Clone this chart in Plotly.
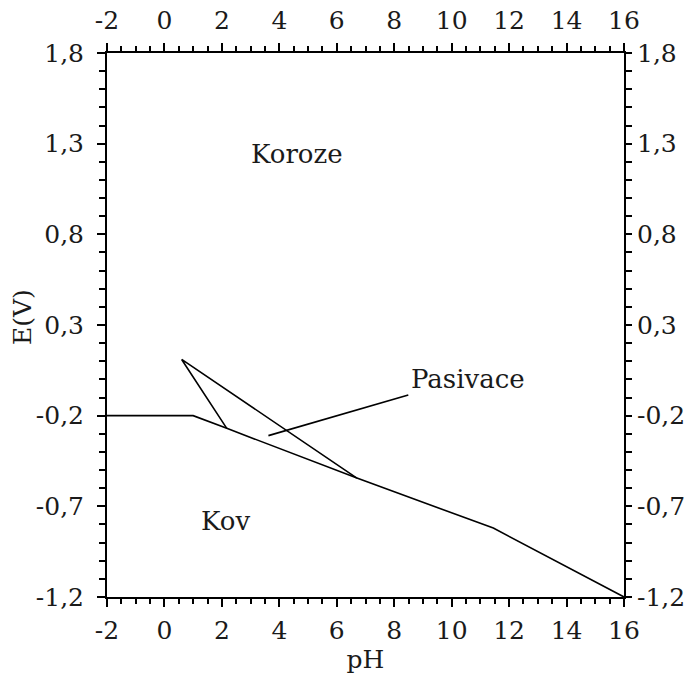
import plotly.graph_objects as go

# Data
boundary_ph = [-2, 1.0, 2.17, 6.7, 11.45, 16]
boundary_e = [-0.2, -0.2, -0.27, -0.544, -0.82, -1.2]

tri_ph = [2.17, 0.6, 6.7]
tri_e = [-0.27, 0.11, -0.544]

leader_ph = [3.62, 8.49]
leader_e = [-0.31, -0.086]

labels = ["Koroze", "Kov", "Pasivace"]
label_ph = [4.6, 2.14, 8.52]
label_e = [1.243, -0.78, 0.0]

x_tickvals = [-2, 0, 2, 4, 6, 8, 10, 12, 14, 16]
x_ticktext = ["-2", "0", "2", "4", "6", "8", "10", "12", "14", "16"]
y_tickvals = [-1.2, -0.7, -0.2, 0.3, 0.8, 1.3, 1.8]
y_ticktext = ["-1,2", "-0,7", "-0,2", "0,3", "0,8", "1,3", "1,8"]

FONT = "DejaVu Serif"
FS = 25
LC = "#1a1a1a"

fig = go.Figure()
line = dict(color="black", width=1.6)
fig.add_trace(go.Scatter(x=boundary_ph, y=boundary_e, mode="lines", line=line, showlegend=False, hoverinfo="skip"))
fig.add_trace(go.Scatter(x=tri_ph, y=tri_e, mode="lines", line=line, showlegend=False, hoverinfo="skip"))
fig.add_trace(go.Scatter(x=leader_ph, y=leader_e, mode="lines", line=line, showlegend=False, hoverinfo="skip"))
fig.add_trace(go.Scatter(x=[-2, 16], y=[-1.2, 1.8], xaxis="x2", yaxis="y2", mode="markers",
                         marker=dict(opacity=0), showlegend=False, hoverinfo="skip"))

for t, px, pe in zip(labels, label_ph, label_e):
    fig.add_annotation(x=px, y=pe, text=t, showarrow=False,
                       xanchor="left" if t == "Pasivace" else "center", yanchor="middle",
                       font=dict(family=FONT, size=FS + 1, color=LC))

# y-axis title as rotated annotation
fig.add_annotation(xref="paper", yref="paper", x=-0.162, y=0.515, text="E(V)", textangle=-90,
                   showarrow=False, xanchor="center", yanchor="middle",
                   font=dict(family=FONT, size=FS, color=LC))

axis_common = dict(showline=True, linecolor="black", linewidth=2, showgrid=False, zeroline=False,
                   ticks="outside", tickcolor="black", tickwidth=1.5, automargin=False,
                   tickfont=dict(family=FONT, size=FS, color=LC))

xminor = dict(dtick=0.5, ticks="outside", ticklen=5, tickcolor="black", tickwidth=1.5)
yminor = dict(dtick=0.1, ticks="outside", ticklen=6, tickcolor="black", tickwidth=1.5)

fig.update_layout(
    width=688, height=679,
    margin=dict(l=107, r=64, t=53, b=82),
    paper_bgcolor="white", plot_bgcolor="white",
    xaxis=dict(range=[-2, 16], tickmode="array", tickvals=x_tickvals, ticktext=x_ticktext, ticklen=8,
               minor=xminor,
               title=dict(text="pH", font=dict(family=FONT, size=FS, color=LC), standoff=6),
               ticklabelstandoff=2, **axis_common),
    xaxis2=dict(range=[-2, 16], tickmode="array", tickvals=x_tickvals, ticktext=x_ticktext, ticklen=8,
                overlaying="x", side="top", matches="x",
                minor=xminor, ticklabelstandoff=4, **axis_common),
    yaxis=dict(range=[-1.2, 1.8], tickmode="array", tickvals=y_tickvals, ticktext=y_ticktext, ticklen=8,
               minor=yminor, ticklabelstandoff=8, **axis_common),
    yaxis2=dict(range=[-1.2, 1.8], tickmode="array", tickvals=y_tickvals, ticktext=y_ticktext, ticklen=6,
                overlaying="y", side="right", matches="y",
                minor=yminor, ticklabelstandoff=0, **axis_common),
)

fig.write_html("out.html", config={"displayModeBar": False},
               post_script="document.body.style.margin='0';")
